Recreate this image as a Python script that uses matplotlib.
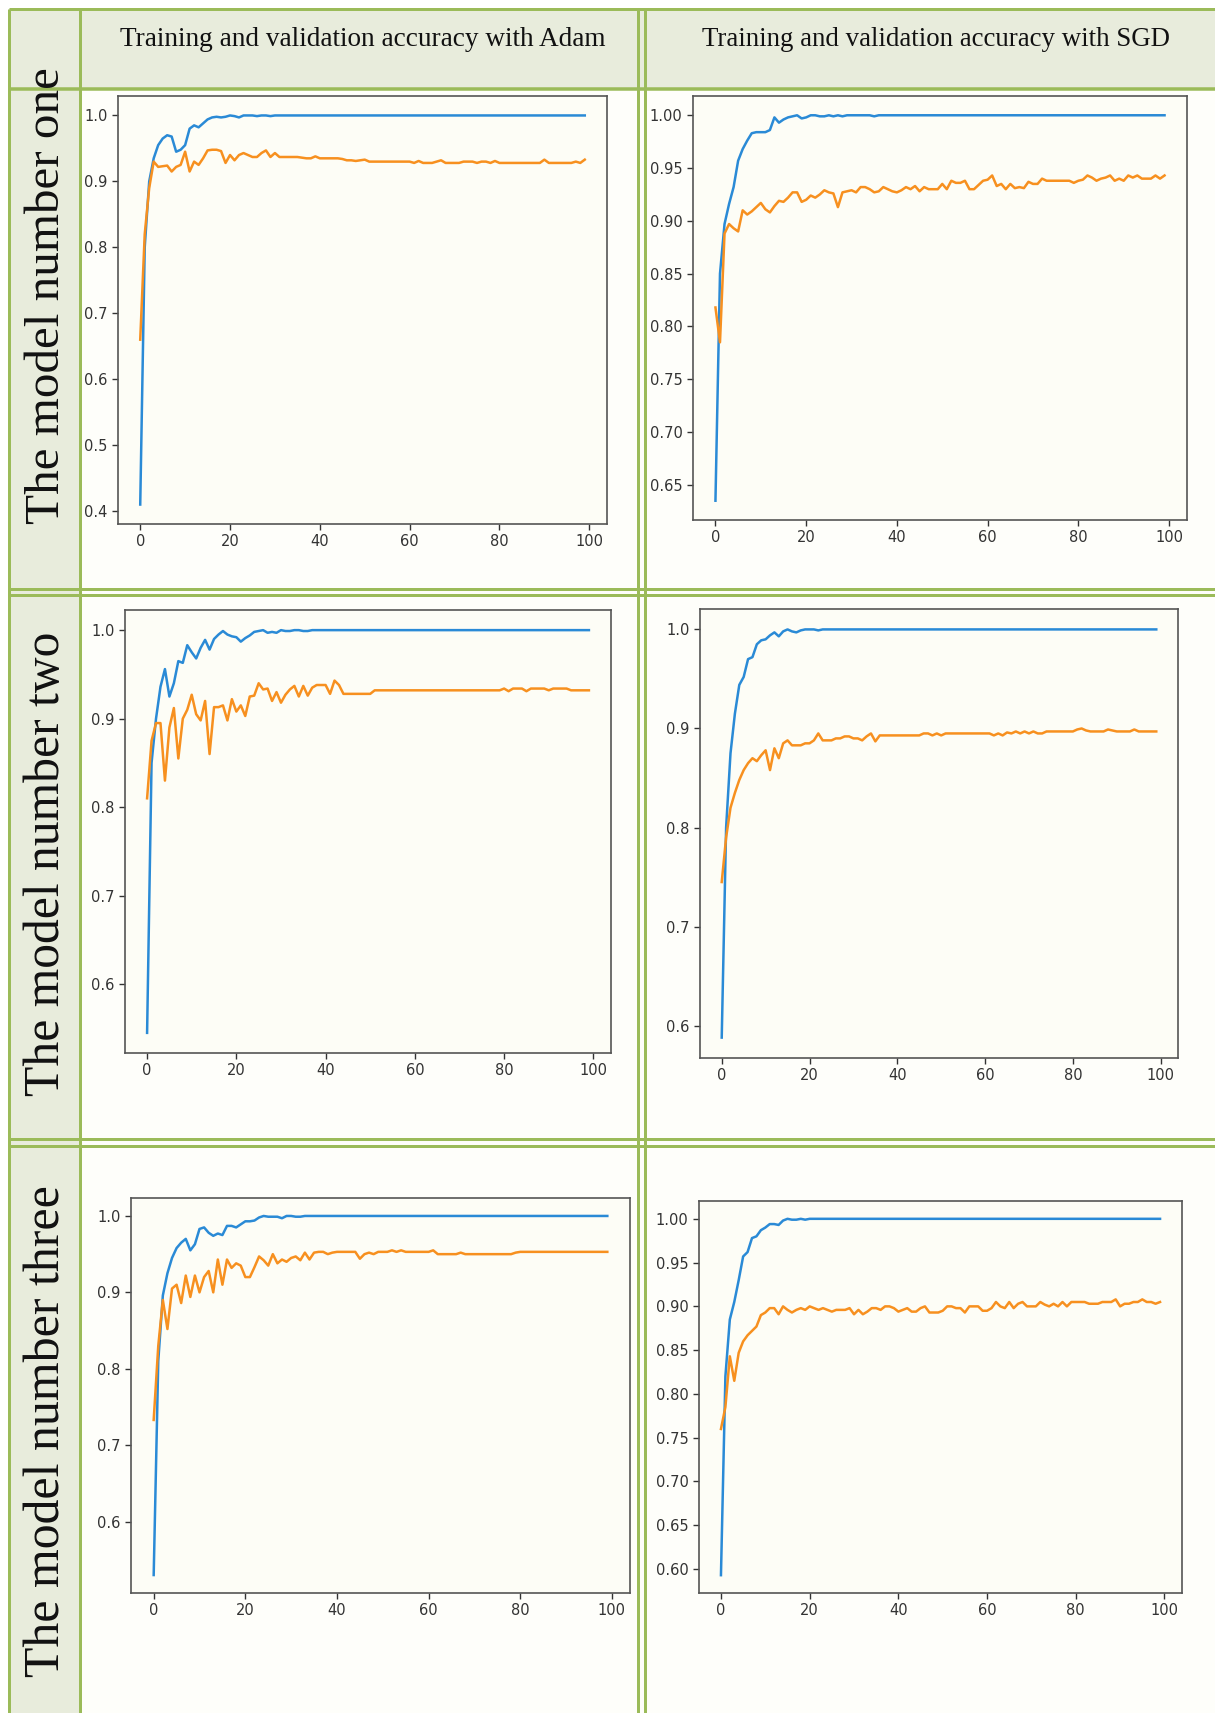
import matplotlib
matplotlib.use("Agg")
import matplotlib.pyplot as plt
from matplotlib.patches import Rectangle
from matplotlib.lines import Line2D

# ---------------- data ----------------
epochs = list(range(100))

col_titles = ["Training and validation accuracy with Adam",
              "Training and validation accuracy with SGD"]
row_titles = ["The model number one", "The model number two", "The model number three"]

adam1_train = [0.41, 0.80, 0.90, 0.935, 0.955, 0.965, 0.970, 0.968, 0.945, 0.948,
               0.955, 0.980, 0.985, 0.982, 0.988, 0.994, 0.997, 0.998, 0.997, 0.998,
               1.0, 0.999, 0.997, 1.0,
               1.0, 1.0, 0.999, 1.0, 1.0, 0.999] + [1.0] * 70
adam1_val = [0.66, 0.82, 0.89, 0.93, 0.922, 0.923, 0.924, 0.915, 0.922, 0.925,
             0.945, 0.915, 0.930, 0.925, 0.935, 0.947, 0.948, 0.948, 0.946, 0.928,
             0.940, 0.932, 0.940, 0.943, 0.940, 0.937, 0.937, 0.943, 0.947, 0.937,
             0.943,
             0.937, 0.937, 0.937, 0.937, 0.937, 0.936, 0.935, 0.935, 0.938, 0.935,
             0.935, 0.935, 0.935, 0.935, 0.934, 0.932, 0.932, 0.931, 0.932,
             0.933, 0.930, 0.930, 0.930, 0.930, 0.930, 0.930, 0.930, 0.930, 0.930, 0.930,
             0.928, 0.931, 0.928, 0.928, 0.928, 0.930, 0.932,
             0.928, 0.928, 0.928, 0.928,
             0.930, 0.930, 0.930, 0.928, 0.930, 0.930, 0.928, 0.931] + [0.928] * 10 + \
            [0.933] + [0.928] * 6 + [0.930, 0.928, 0.933]

sgd1_train = [0.635, 0.85, 0.897, 0.916, 0.932, 0.957, 0.968, 0.976, 0.983, 0.984,
              0.984, 0.984, 0.986, 0.998, 0.993, 0.996, 0.998, 0.999, 1.0, 0.997,
              0.998, 1.0, 1.0, 0.999, 0.999, 1.0, 0.999, 1.0, 0.999] + \
             [1.0] * 6 + [0.999] + [1.0] * 64
sgd1_val = [0.818, 0.785, 0.888, 0.897, 0.893, 0.890, 0.910, 0.906, 0.909, 0.913,
            0.917, 0.911, 0.908, 0.914, 0.919, 0.918, 0.922, 0.927, 0.927, 0.918,
            0.920, 0.924, 0.922, 0.925, 0.929, 0.927, 0.926, 0.913, 0.927, 0.928,
            0.929, 0.927, 0.932, 0.932, 0.930, 0.927, 0.928, 0.932, 0.930, 0.928,
            0.927, 0.929, 0.932, 0.930, 0.933, 0.928, 0.932, 0.930, 0.930, 0.930,
            0.935, 0.930, 0.938, 0.936, 0.936, 0.938, 0.930, 0.930, 0.934, 0.938,
            0.939, 0.943, 0.933, 0.935, 0.930, 0.935, 0.931, 0.932, 0.931, 0.937,
            0.935, 0.935, 0.940, 0.938, 0.938, 0.938, 0.938, 0.938, 0.938, 0.936,
            0.938, 0.939, 0.943, 0.941, 0.938, 0.940, 0.941, 0.943, 0.938, 0.940,
            0.938, 0.943, 0.941, 0.943, 0.940, 0.940, 0.940, 0.943, 0.940, 0.943]

adam2_train = [0.545, 0.850, 0.900, 0.936, 0.956, 0.925, 0.940, 0.965, 0.963, 0.983,
               0.975, 0.968, 0.980, 0.989, 0.978, 0.990, 0.995, 0.999, 0.995, 0.993,
               0.992, 0.987, 0.991, 0.994, 0.998, 0.999, 1.000, 0.997, 0.998, 0.997,
               1.000, 0.999, 0.999, 1.000, 1.000, 0.999, 0.999] + [1.0] * 63
adam2_val = [0.810, 0.875, 0.895, 0.895, 0.830, 0.890, 0.912, 0.855, 0.900, 0.910,
             0.927, 0.905, 0.898, 0.920, 0.860, 0.913, 0.913, 0.915, 0.898, 0.922,
             0.908, 0.915, 0.903, 0.925, 0.926, 0.940, 0.933, 0.934, 0.920, 0.930,
             0.918, 0.927, 0.933, 0.937, 0.925, 0.937, 0.926, 0.935, 0.938, 0.938,
             0.938, 0.928, 0.943, 0.938, 0.928, 0.928, 0.928, 0.928, 0.928, 0.928,
             0.928] + [0.932] * 29 + \
            [0.934, 0.931, 0.934, 0.934, 0.934, 0.931, 0.934, 0.934, 0.934, 0.934,
             0.932, 0.934, 0.934, 0.934, 0.934, 0.932, 0.932, 0.932, 0.932, 0.932]

sgd2_train = [0.588, 0.800, 0.875, 0.915, 0.944, 0.952, 0.970, 0.972, 0.985, 0.989,
              0.990, 0.994, 0.997, 0.993, 0.998, 1.000, 0.998, 0.997, 0.999, 1.000,
              1.000, 1.000, 0.999] + [1.0] * 77
sgd2_val = [0.745, 0.790, 0.820, 0.835, 0.848, 0.858, 0.865, 0.870, 0.867, 0.873,
            0.878, 0.858, 0.880, 0.870, 0.885, 0.888, 0.883, 0.883, 0.883, 0.885,
            0.885, 0.888, 0.895, 0.888, 0.888, 0.888, 0.890, 0.890, 0.892, 0.892,
            0.890, 0.890, 0.888, 0.892, 0.895, 0.887, 0.893, 0.893, 0.893, 0.893,
            0.893, 0.893, 0.893, 0.893, 0.893, 0.893, 0.895, 0.895, 0.893, 0.895,
            0.893, 0.895, 0.895, 0.895, 0.895, 0.895, 0.895, 0.895, 0.895, 0.895,
            0.895, 0.895, 0.893, 0.895, 0.893, 0.896, 0.895, 0.897, 0.895, 0.897,
            0.895, 0.897, 0.895, 0.895, 0.897, 0.897, 0.897, 0.897, 0.897, 0.897,
            0.897, 0.899, 0.900, 0.898, 0.897, 0.897, 0.897, 0.897, 0.899, 0.898,
            0.897, 0.897, 0.897, 0.897, 0.899, 0.897, 0.897, 0.897, 0.897, 0.897]

adam3_train = [0.530, 0.810, 0.896, 0.925, 0.945, 0.958, 0.965, 0.970, 0.955, 0.963,
               0.983, 0.985, 0.978, 0.974, 0.977, 0.975, 0.987, 0.987, 0.985, 0.989,
               0.993, 0.993, 0.994, 0.998, 1.000, 0.999, 0.999, 0.999, 0.997, 1.000,
               1.000, 0.999, 0.999] + [1.0] * 67
adam3_val = [0.733, 0.830, 0.890, 0.852, 0.905, 0.910, 0.886, 0.922, 0.894, 0.922,
             0.900, 0.920, 0.928, 0.900, 0.943, 0.910, 0.943, 0.932, 0.938, 0.935,
             0.920, 0.920, 0.933, 0.947, 0.942, 0.935, 0.950, 0.938, 0.943, 0.940,
             0.945, 0.947, 0.942, 0.952, 0.943, 0.952, 0.953, 0.953, 0.950, 0.952,
             0.953, 0.953, 0.953, 0.953, 0.953, 0.944, 0.950, 0.952, 0.950, 0.953,
             0.953, 0.953, 0.955, 0.953, 0.955, 0.953, 0.953, 0.953, 0.953, 0.953,
             0.953, 0.955, 0.950, 0.950, 0.950, 0.950, 0.950, 0.952, 0.950, 0.950,
             0.950, 0.950, 0.950, 0.950, 0.950, 0.950, 0.950, 0.950, 0.950, 0.952] + \
            [0.953] * 20

sgd3_train = [0.593, 0.820, 0.885, 0.905, 0.930, 0.957, 0.962, 0.978, 0.980, 0.987,
              0.990, 0.994, 0.994, 0.993, 0.998, 1.000, 0.999, 0.999, 1.000, 0.999] + \
             [1.0] * 80
sgd3_val = [0.760, 0.785, 0.843, 0.815, 0.847, 0.860, 0.867, 0.872, 0.877, 0.890,
            0.893, 0.898, 0.898, 0.891, 0.900, 0.896, 0.893, 0.896, 0.898, 0.896,
            0.900, 0.898, 0.896, 0.898, 0.896, 0.894, 0.896, 0.896, 0.896, 0.898,
            0.891, 0.896, 0.891, 0.894, 0.898, 0.898, 0.896, 0.900, 0.900, 0.898,
            0.894, 0.896, 0.898, 0.894, 0.894, 0.898, 0.900, 0.893, 0.893, 0.893,
            0.895, 0.900, 0.900, 0.898, 0.898, 0.893, 0.900, 0.900, 0.900, 0.895,
            0.895, 0.898, 0.905, 0.900, 0.898, 0.905, 0.898, 0.903, 0.905, 0.900,
            0.900, 0.900, 0.905, 0.902, 0.900, 0.903, 0.900, 0.905, 0.900, 0.905,
            0.905, 0.905, 0.905, 0.903, 0.903, 0.903, 0.905, 0.905, 0.905, 0.908,
            0.900, 0.903, 0.903, 0.905, 0.905, 0.908, 0.905, 0.905, 0.903, 0.905]

xticks = [0, 20, 40, 60, 80, 100]
yticks_adam1 = [0.4, 0.5, 0.6, 0.7, 0.8, 0.9, 1.0]
yticks_sgd1 = [0.65, 0.70, 0.75, 0.80, 0.85, 0.90, 0.95, 1.00]
yticks_adam2 = [0.6, 0.7, 0.8, 0.9, 1.0]
yticks_sgd2 = [0.6, 0.7, 0.8, 0.9, 1.0]
yticks_adam3 = [0.6, 0.7, 0.8, 0.9, 1.0]
yticks_sgd3 = [0.60, 0.65, 0.70, 0.75, 0.80, 0.85, 0.90, 0.95, 1.00]

# ---------------- layout ----------------
W, H = 1215, 1713
fig = plt.figure(figsize=(W / 100, H / 100), dpi=100)
fig.patch.set_facecolor("white")

GREEN = "#9bbb59"
HEAD_BG = "#e8ecdc"
CELL_BG = "#fefefa"
AX_BG = "#fdfdf6"


def fx(x):
    return x / W


def fy(y):
    return 1 - y / H


def rect(x0, y0, x1, y1, color):
    fig.patches.append(Rectangle((fx(x0), fy(y1)), fx(x1) - fx(x0), fy(y0) - fy(y1),
                                 transform=fig.transFigure, facecolor=color,
                                 edgecolor="none", zorder=-10))


def hline(y, x0, x1, lw=3.0):
    fig.lines.append(Line2D([fx(x0), fx(x1)], [fy(y), fy(y)], transform=fig.transFigure,
                            color=GREEN, lw=lw * 0.72, zorder=5, solid_capstyle="butt"))


def vline(x, y0, y1, lw=3.0):
    fig.lines.append(Line2D([fx(x), fx(x)], [fy(y0), fy(y1)], transform=fig.transFigure,
                            color=GREEN, lw=lw * 0.72, zorder=5, solid_capstyle="butt"))


# backgrounds
rect(9, 9, 80, H, HEAD_BG)
rect(80, 9, W, 88, HEAD_BG)
rect(80, 88, W, H, CELL_BG)

# borders
hline(9, 9, W)
hline(88.5, 9, W, 3.5)
for yb in (589, 595.5, 1139, 1145.5):
    hline(yb, 9, W, 3.0)
vline(9, 9, H)
vline(80, 9, H)
vline(638, 9, H)
vline(645, 9, H)

# header texts (fit widths)
renderer = fig.canvas.get_renderer()


def fit_text(x, y, s, target, rotation=0, base=20):
    t = fig.text(fx(x), fy(y), s, ha="center", va="center", rotation=rotation,
                 family="Liberation Serif", fontsize=base, color="#111111", zorder=6)
    bb = t.get_window_extent(renderer=renderer)
    size = bb.height if rotation else bb.width
    t.set_fontsize(base * target / size)
    return t


fit_text(363, 39, col_titles[0], 486)
fit_text(936, 39, col_titles[1], 470)
fit_text(47, 296, row_titles[0], 457, rotation=90, base=30)
fit_text(47, 864, row_titles[1], 464, rotation=90, base=30)
fit_text(47, 1431, row_titles[2], 492, rotation=90, base=30)

# axes boxes (left, top, right, bottom) in pixels
boxes = [(118, 96, 607, 524), (693, 96, 1187, 520),
         (125, 610, 611, 1053), (700, 609, 1178, 1058),
         (131, 1198, 630, 1593), (699, 1201, 1182, 1593)]
series = [(adam1_train, adam1_val, yticks_adam1, "{:.1f}"),
          (sgd1_train, sgd1_val, yticks_sgd1, "{:.2f}"),
          (adam2_train, adam2_val, yticks_adam2, "{:.1f}"),
          (sgd2_train, sgd2_val, yticks_sgd2, "{:.1f}"),
          (adam3_train, adam3_val, yticks_adam3, "{:.1f}"),
          (sgd3_train, sgd3_val, yticks_sgd3, "{:.2f}")]

BLUE = "#2a8ad6"
ORANGE = "#f7901f"

for (l, t, r, b), (tr, va, yt, fmt) in zip(boxes, series):
    ax = fig.add_axes([fx(l), fy(b), fx(r) - fx(l), fy(t) - fy(b)])
    ax.set_zorder(1)
    ax.set_facecolor(AX_BG)
    ax.plot(epochs, tr, color=BLUE, lw=1.8)
    ax.plot(epochs, va, color=ORANGE, lw=1.8)
    ax.set_xticks(xticks)
    ax.set_yticks(yt)
    ax.set_yticklabels([fmt.format(v) for v in yt])
    ax.tick_params(labelsize=10.5, colors="#333333", length=4, width=1.0)
    for sp in ax.spines.values():
        sp.set_color("#555555")
        sp.set_linewidth(1.2)

fig.savefig("out.png", dpi=100, facecolor=fig.get_facecolor())
